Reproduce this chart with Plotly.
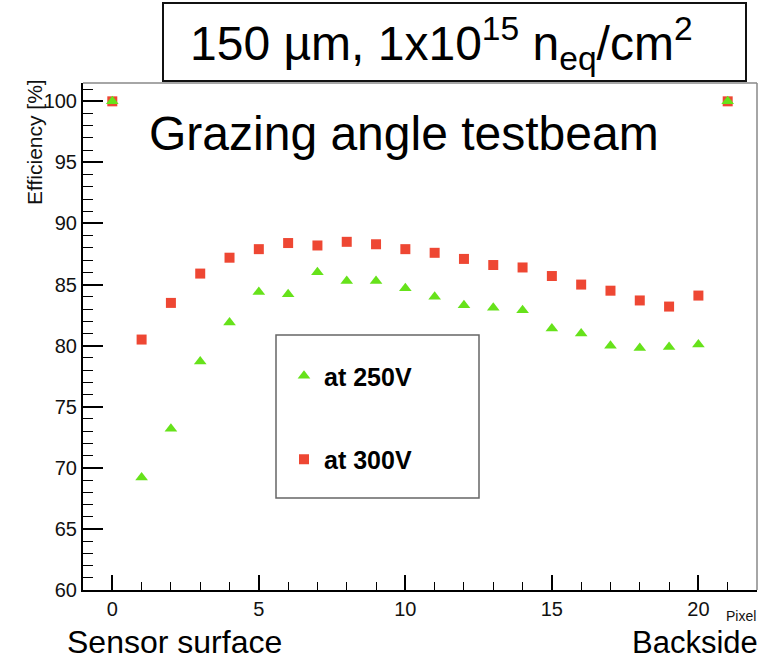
import plotly.graph_objects as go

# Efficiency per pixel row, grazing-angle testbeam, 150 um sensor at 1e15 neq/cm2
pixel = list(range(22))
eff_250v = [100.0, 69.2, 73.2, 78.7, 81.9, 84.4, 84.2, 86.0, 85.3, 85.3, 84.7,
            84.0, 83.3, 83.1, 82.9, 81.4, 81.0, 80.0, 79.8, 79.9, 80.1, 100.0]
eff_300v = [100.0, 80.5, 83.5, 85.9, 87.2, 87.9, 88.4, 88.2, 88.5, 88.3, 87.9,
            87.6, 87.1, 86.6, 86.4, 85.7, 85.0, 84.5, 83.7, 83.2, 84.1, 100.0]

x_ticks = [0, 5, 10, 15, 20]
y_ticks = [60, 65, 70, 75, 80, 85, 90, 95, 100]

RED = "#EE4733"
GREEN = "#66E21A"
FONT = "Liberation Sans, Arial, Helvetica, sans-serif"

W, H = 771, 660
L, R, T, B = 83, 14, 83, 70
PW, PH = W - L - R, H - T - B


def px(x):
    return (x - L) / PW


def py(y):
    return (H - B - y) / PH


fig = go.Figure()

fig.add_trace(go.Scatter(
    x=pixel, y=eff_300v, mode="markers", name="at 300V",
    legendgroup="b", legendrank=2,
    marker=dict(symbol="square", size=10, color=RED, line=dict(width=0)),
))
fig.add_trace(go.Scatter(
    x=pixel, y=eff_250v, mode="markers", name="at 250V",
    legendgroup="a", legendrank=1,
    marker=dict(symbol="triangle-up", size=11, color=GREEN, line=dict(width=0)),
))

fig.update_xaxes(
    range=[-1, 22], tickvals=x_ticks, ticktext=[str(v) for v in x_ticks],
    showgrid=False, zeroline=False, showline=True, linecolor="black", linewidth=2,
    ticks="inside", ticklen=15, tickwidth=2, tickcolor="black",
    tickfont=dict(family=FONT, size=20, color="#111111"),
    minor=dict(tickvals=pixel, ticks="inside", ticklen=8, tickwidth=1,
               tickcolor="black"),
)
fig.update_yaxes(
    range=[60, 101.5], tickvals=y_ticks, ticktext=[str(v) for v in y_ticks],
    showgrid=False, zeroline=False, showline=True, linecolor="black", linewidth=2,
    ticks="inside", ticklen=20, tickwidth=2, tickcolor="black",
    tickfont=dict(family=FONT, size=20, color="#111111"),
    minor=dict(dtick=1, tick0=60, ticks="inside", ticklen=10, tickwidth=1,
               tickcolor="black"),
)

shapes = [
    # top and right edges of the pad frame
    dict(type="line", xref="paper", yref="paper", x0=0, y0=1, x1=1, y1=1,
         line=dict(color="#888888", width=1.5)),
    dict(type="line", xref="paper", yref="paper", x0=1, y0=0, x1=1, y1=1,
         line=dict(color="#888888", width=1.5)),
    # legend box
    dict(type="rect", xref="paper", yref="paper",
         x0=px(276), x1=px(479), y0=py(498), y1=py(335),
         line=dict(color="#666666", width=1.5), layer="below"),
    # title box
    dict(type="rect", xref="paper", yref="paper",
         x0=px(163), x1=px(746), y0=py(81), y1=py(3),
         line=dict(color="#111111", width=2), fillcolor="white", layer="above"),
]

annotations = [
    dict(text="150 µm, 1x10<sup>15</sup> n<sub>eq</sub>/cm<sup>2</sup>",
         xref="paper", yref="paper", x=px(441), y=py(43),
         xanchor="center", yanchor="middle", showarrow=False,
         font=dict(family=FONT, size=48, color="black")),
    dict(text="Grazing angle testbeam", xref="paper", yref="paper",
         x=px(147), y=py(134), xanchor="left", yanchor="middle", showarrow=False,
         font=dict(family=FONT, size=48, color="black")),
    dict(text="Efficiency [%]", xref="paper", yref="paper",
         x=px(35), y=py(77), xanchor="center", yanchor="top", textangle=-90,
         showarrow=False, font=dict(family=FONT, size=21, color="#111111")),
    dict(text="Pixel", xref="paper", yref="paper",
         x=1.0, y=py(616), xanchor="right", yanchor="middle", showarrow=False,
         borderpad=0, font=dict(family=FONT, size=14, color="#111111")),
    dict(text="Sensor surface", xref="paper", yref="paper",
         x=px(66), y=py(642), xanchor="left", yanchor="middle", showarrow=False,
         borderpad=0, font=dict(family=FONT, size=32, color="black")),
    dict(text="Backside", xref="paper", yref="paper",
         x=px(759), y=py(642), xanchor="right", yanchor="middle", showarrow=False,
         borderpad=0, font=dict(family=FONT, size=31, color="black")),
]

fig.update_layout(
    width=W, height=H,
    margin=dict(l=L, r=R, t=T, b=B),
    paper_bgcolor="white", plot_bgcolor="white",
    showlegend=True,
    legend=dict(
        x=px(284), y=py(353), xanchor="left", yanchor="top",
        bgcolor="rgba(0,0,0,0)", borderwidth=0,
        font=dict(family=FONT, size=25, color="black", weight="bold"),
        tracegroupgap=48, itemsizing="trace",
    ),
    shapes=shapes,
    annotations=annotations,
)

fig.write_html("out.html")
